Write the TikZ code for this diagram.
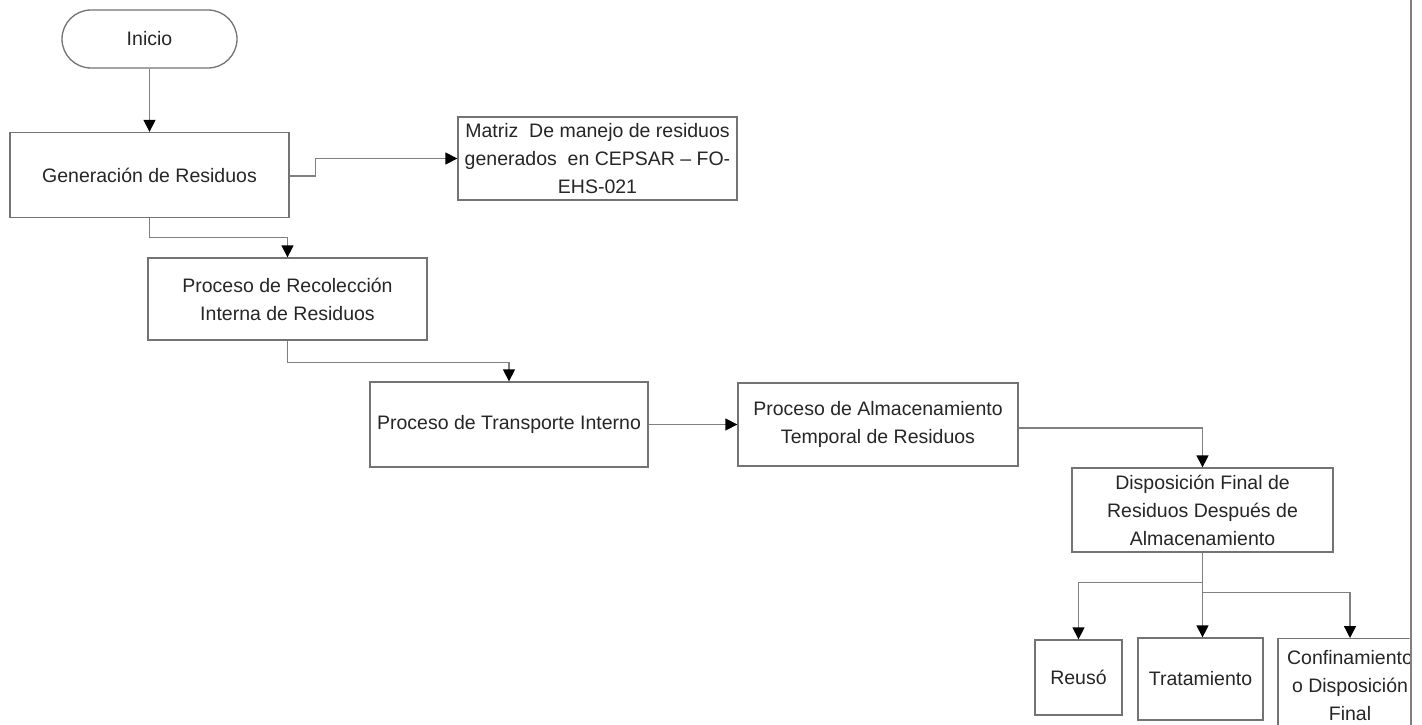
\documentclass[tikz,border=0pt]{standalone}
\usepackage{fontspec}
\setmainfont{Liberation Sans}
\usetikzlibrary{arrows.meta,calc}
\begin{document}
\begin{tikzpicture}[x=1pt,y=-1pt,
  box/.style={draw=black!55, line width=1.3pt, fill=white, align=center, inner sep=2pt,
    text=black!85, font=\fontsize{19.5}{28}\selectfont},
  conn/.style={draw=black!50, line width=1.3pt, -{Triangle[width=12pt,length=12pt,fill=black,color=black]}}
]
\useasboundingbox[fill=white] (0,0) rectangle (1422,725);
% nodes
\node[box, rounded corners=29pt, minimum width=175pt, minimum height=58pt] (ini) at (149.5,39) {Inicio};
\node[box, minimum width=279pt, minimum height=85pt] (gen) at (149.5,175) {Generación de Residuos};
\node[box, minimum width=279pt, minimum height=83pt] (mat) at (597.5,158.5) {Matriz\ \ De manejo de residuos\\generados\ \ en CEPSAR – FO-\\EHS-021};
\node[box, minimum width=279pt, minimum height=82pt] (rec) at (287.5,299) {Proceso de Recolección\\Interna de Residuos};
\node[box, minimum width=278pt, minimum height=85pt] (tra) at (509,424.5) {Proceso de Transporte Interno};
\node[box, minimum width=280pt, minimum height=83pt] (alm) at (878,424.5) {Proceso de Almacenamiento\\Temporal de Residuos};
\node[box, minimum width=261pt, minimum height=84pt] (dis) at (1202.5,510) {Disposición Final de\\Residuos Después de\\Almacenamiento};
\node[box, minimum width=87pt, minimum height=75pt] (reu) at (1078.5,677.5) {Reusó};
\node[box, minimum width=125pt, minimum height=82pt] (trt) at (1200.5,679) {Tratamiento};
\begin{scope}
\clip (1270,600) rectangle (1409.5,725);
\node[box, minimum width=144pt, minimum height=94pt, anchor=north] (con) at (1350,638) {Confinamiento\\o Disposición\\Final};
\end{scope}
% page edge line
\coordinate (lt) at (1411,0);
\coordinate (lb) at (1411,725);
\draw[black!50, line width=1.5pt] (lt) -- (lb);
% connectors
\draw[conn] (ini.south) -- (gen.north);
\draw[conn] ($(gen.east)+(0,1)$) -- ++(26,0) |- (mat.west);
\draw[conn] (gen.south) -- ++(0,19) -| (rec.north);
\draw[conn] (rec.south) -- ++(0,22) -| (tra.north);
\draw[conn] (tra.east) -- (alm.west);
\draw[conn] ($(alm.east)+(0,3.5)$) -| (dis.north);
\draw[conn] (dis.south) -- (dis.south |- trt.north);
\draw[conn] (dis.south) -- ++(0,30) -| (reu.north);
\draw[conn] (dis.south) -- ++(0,40) -| (con.north);
\end{tikzpicture}
\end{document}
